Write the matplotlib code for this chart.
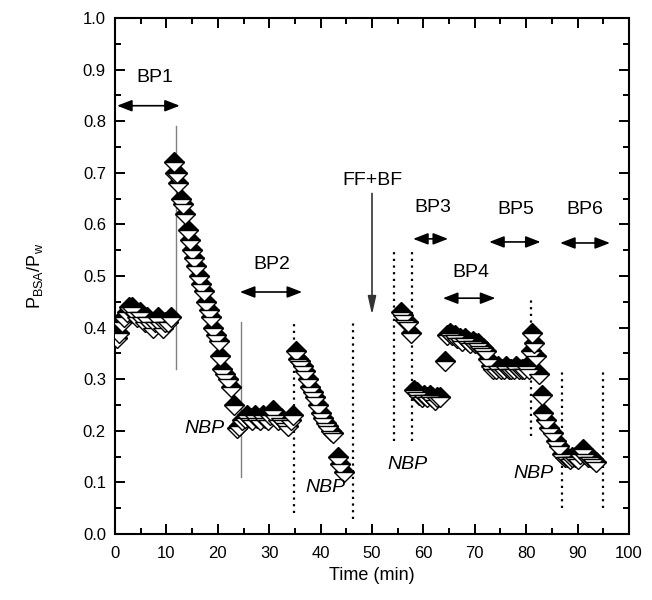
"""BSA permeability ratio vs time, half-filled diamonds with BP/NBP annotations."""

import matplotlib

matplotlib.use("Agg")
import matplotlib.pyplot as plt
from matplotlib.ticker import MultipleLocator

plt.rcParams["font.family"] = ["Liberation Sans", "DejaVu Sans"]
plt.rcParams["mathtext.default"] = "regular"

# measured points (min, P_BSA/P_w)
time_min = [
    0.3, 0.8, 1.3, 1.8, 2.3, 2.8, 3.3, 3.8, 4.3, 4.8, 5.3, 5.8, 6.3, 6.8,
    7.3, 7.8, 8.3, 8.8, 9.3, 9.8, 10.3, 10.8,
    11.4, 11.7, 12.0, 12.3, 12.8, 13.3, 13.7, 14.2, 14.5, 14.9, 15.4, 15.8,
    16.3, 16.8, 17.3, 17.7, 18.2, 18.6, 19.1, 19.6, 20.2, 20.5, 20.9, 21.4,
    22.0, 22.6, 23.2,
    23.7, 24.2, 24.7, 25.2, 25.7, 26.2, 26.7, 27.2, 27.7, 28.2, 28.7, 29.2,
    29.7, 30.2, 30.7, 31.2, 31.7, 32.2, 32.7, 33.2, 33.7, 34.2, 34.6,
    35.3, 35.6, 36.0, 36.5, 37.0, 37.5, 38.0, 38.5, 39.0, 39.5, 40.0, 40.5,
    41.0, 41.5, 42.0, 42.5, 43.3, 43.8, 44.5,
    55.6, 56.0, 56.5, 57.0, 57.6,
    58.2, 58.7, 59.2, 59.7, 60.2, 60.7, 61.2, 61.7, 62.2, 62.7, 63.3,
    64.2,
    64.6, 65.1, 65.6, 66.1, 66.6, 67.1, 67.6, 68.1, 68.6, 69.1, 69.6, 70.1,
    70.6, 71.1, 71.6, 72.1, 72.6, 73.1, 73.6, 74.1, 74.6, 75.1, 75.6, 76.1,
    76.6, 77.1, 77.6, 78.1, 78.6, 79.1, 79.6, 80.1, 80.6,
    81.0, 81.2, 81.6, 82.0, 82.5, 83.0, 83.3, 83.9, 84.5, 85.2, 85.8, 86.4,
    87.0,
    87.5, 88.0, 88.5, 89.0, 89.5, 90.0, 90.5, 91.0, 91.5, 92.0, 92.5, 93.0,
    93.6,
]
p_ratio = [
    0.38, 0.39, 0.41, 0.42, 0.43, 0.44, 0.44, 0.43, 0.42, 0.43, 0.42, 0.41,
    0.42, 0.41, 0.40, 0.41, 0.42, 0.41, 0.40, 0.41, 0.41, 0.42,
    0.72, 0.70, 0.70, 0.68, 0.65, 0.64, 0.62, 0.59, 0.57, 0.55, 0.535, 0.52,
    0.50, 0.485, 0.47, 0.45, 0.435, 0.42, 0.40, 0.385, 0.375, 0.345, 0.32,
    0.31, 0.30, 0.285, 0.25,
    0.205, 0.21, 0.22, 0.225, 0.23, 0.225, 0.22, 0.23, 0.225, 0.22, 0.23,
    0.225, 0.22, 0.23, 0.24, 0.23, 0.22, 0.225, 0.22, 0.215, 0.21, 0.22, 0.23,
    0.355, 0.34, 0.335, 0.325, 0.315, 0.30, 0.285, 0.275, 0.265, 0.25, 0.235,
    0.225, 0.215, 0.21, 0.20, 0.195, 0.15, 0.135, 0.12,
    0.43, 0.425, 0.415, 0.41, 0.39,
    0.28, 0.275, 0.27, 0.265, 0.27, 0.265, 0.27, 0.265, 0.26, 0.265, 0.265,
    0.335,
    0.385, 0.39, 0.385, 0.385, 0.38, 0.38, 0.375, 0.38, 0.375, 0.37, 0.375,
    0.37, 0.37, 0.365, 0.36, 0.355, 0.34, 0.325, 0.32, 0.32, 0.325, 0.32,
    0.32, 0.325, 0.32, 0.32, 0.32, 0.325, 0.32, 0.32, 0.32, 0.325, 0.32,
    0.355, 0.39, 0.37, 0.345, 0.31, 0.27, 0.235, 0.22, 0.205, 0.195, 0.18,
    0.17, 0.155,
    0.15, 0.15, 0.145, 0.15, 0.15, 0.145, 0.155, 0.165, 0.155, 0.15, 0.15,
    0.145, 0.14,
]

# vertical markers: (x, y_bottom, y_top)
solid_lines = [(11.9, 0.32, 0.79), (24.5, 0.11, 0.41)]
dotted_lines = [
    (34.8, 0.04, 0.415), (46.3, 0.03, 0.41), (54.3, 0.18, 0.555),
    (57.8, 0.18, 0.555), (81.0, 0.19, 0.455), (87.0, 0.05, 0.318),
    (95.0, 0.05, 0.314),
]

# double arrows: label, x_start, x_end, y_arrow, x_text, y_text
bp_labels = ["BP1", "BP2", "BP3", "BP4", "BP5", "BP6"]
bp_x0 = [0.4, 24.3, 58.0, 63.8, 72.8, 86.6]
bp_x1 = [12.6, 36.4, 64.8, 74.0, 82.8, 96.3]
bp_y = [0.83, 0.469, 0.572, 0.457, 0.566, 0.564]
bp_tx = [7.8, 30.5, 61.9, 69.3, 78.0, 91.5]
bp_ty = [0.885, 0.522, 0.632, 0.506, 0.628, 0.628]

nbp_x = [17.5, 41.0, 56.9, 81.4]
nbp_y = [0.205, 0.09, 0.134, 0.118]

fig = plt.figure(figsize=(6.52, 6.0), dpi=100)
ax = fig.add_axes([0.1764, 0.11, 0.7883, 0.86])

for x, y0, y1 in solid_lines:
    ax.plot([x, x], [y0, y1], color="#808080", lw=1.0, zorder=1)
for x, y0, y1 in dotted_lines:
    ax.plot([x, x], [y0, y1], color="black", lw=1.6, ls=(0, (1, 2)), zorder=1)

ax.plot(time_min, p_ratio, ls="none", marker="D", ms=10, fillstyle="top",
        markerfacecolor="black", markerfacecoloralt="white",
        markeredgecolor="black", markeredgewidth=1.0, zorder=3)

for lab, x0, x1, y, tx, ty in zip(bp_labels, bp_x0, bp_x1, bp_y, bp_tx, bp_ty):
    ax.annotate("", xy=(x1, y), xytext=(x0, y),
                arrowprops=dict(arrowstyle="<|-|>,head_length=0.9,head_width=0.35",
                                color="black", lw=1.2, shrinkA=0, shrinkB=0))
    ax.text(tx, ty, lab, ha="center", va="center", fontsize=14)

for x, y in zip(nbp_x, nbp_y):
    ax.text(x, y, "NBP", ha="center", va="center", fontsize=14, style="italic")

ax.text(50, 0.685, "FF+BF", ha="center", va="center", fontsize=14)
ax.annotate("", xy=(50, 0.425), xytext=(50, 0.66),
            arrowprops=dict(arrowstyle="-|>,head_length=1.1,head_width=0.25",
                            color="#333333", lw=1.2, shrinkA=0, shrinkB=0))

ax.set_xlim(0, 100)
ax.set_ylim(0, 1.0)
ax.xaxis.set_major_locator(MultipleLocator(10))
ax.xaxis.set_minor_locator(MultipleLocator(5))
ax.yaxis.set_major_locator(MultipleLocator(0.1))
ax.yaxis.set_minor_locator(MultipleLocator(0.05))
ax.yaxis.set_major_formatter(lambda v, pos: f"{v:.1f}")
ax.tick_params(which="both", direction="in", top=True, right=True,
               width=1.4, labelsize=12)
ax.tick_params(which="major", length=7)
ax.tick_params(which="minor", length=4)
ax.tick_params(axis="x", which="major", pad=9)
ax.tick_params(axis="y", which="major", pad=6.5)
for s in ax.spines.values():
    s.set_linewidth(1.5)

ax.set_xlabel("Time (min)", fontsize=13, labelpad=4)
ax.set_ylabel(r"P$_{BSA}$/P$_{w}$", fontsize=13, labelpad=27)

fig.savefig("out.png", dpi=100)
